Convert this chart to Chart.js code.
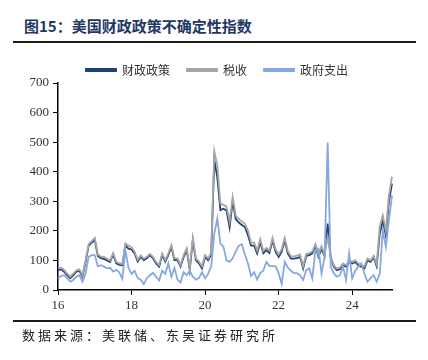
<!DOCTYPE html>
<html><head><meta charset="utf-8">
<script src="https://cdn.jsdelivr.net/npm/chart.js@4.4.1/dist/chart.umd.min.js"></script>
<style>
html,body{margin:0;padding:0;background:#fff;}
#wrap{position:relative;width:428px;height:360px;overflow:hidden;background:#fff;}
#title{position:absolute;left:24px;top:16px;font-family:"Noto Sans CJK SC";font-weight:bold;font-size:15px;line-height:20px;color:#1f3864;white-space:nowrap;}
#rule1{position:absolute;left:13px;top:41px;width:403px;height:2px;background:#1a1a1a;}
#rule2{position:absolute;left:13px;top:320px;width:403px;height:1.5px;background:#1a1a1a;}
#src{position:absolute;left:22px;top:326px;font-family:"Noto Sans CJK SC";font-size:13px;line-height:18px;letter-spacing:3px;color:#222;white-space:nowrap;}
#c{position:absolute;left:0;top:0;}
</style></head>
<body><div id="wrap">
<div id="title">图15：美国财政政策不确定性指数</div>
<div id="rule1"></div>
<canvas id="c" width="428" height="360"></canvas>
<div id="rule2"></div>
<div id="src">数据来源：美联储、东吴证券研究所</div>
</div>
<script>
const seriesNames = ['财政政策', '税收', '政府支出'];
const startYear = 2016, monthCount = 110;
const xTickYears = [2016, 2018, 2020, 2022, 2024];
const xTickLabels = ['16', '18', '20', '22', '24'];

const fiscalPolicy = [68,70,62,50,40,50,62,65,45,95,
150,160,170,115,108,105,100,95,120,90,
85,84,150,140,137,124,96,112,101,107,
118,107,90,79,118,96,118,146,101,101,
79,112,135,68,169,101,90,73,112,101,
120,440,380,270,275,269,212,300,240,228,
220,213,185,150,150,124,162,124,135,125,
168,130,112,130,168,124,106,106,108,112,
73,115,118,124,150,112,140,115,225,110,
79,67,70,84,79,95,90,95,84,79,
73,100,95,110,80,190,235,185,300,360];

const taxes = [73,75,68,55,45,55,67,70,50,100,
155,165,176,120,113,112,106,100,125,95,
90,88,158,150,145,130,102,117,106,112,
122,112,95,84,124,101,124,152,107,107,
84,118,141,74,176,107,96,80,118,107,
126,470,420,292,288,282,232,315,252,240,
232,224,200,160,160,133,172,132,142,133,
176,138,120,138,176,132,114,114,116,120,
80,122,125,130,155,118,148,120,180,112,
84,72,76,90,84,100,95,100,90,84,
80,106,100,115,86,215,252,200,320,383];

const govSpending = [39,47,50,39,28,34,45,50,28,55,
112,118,118,80,84,79,73,75,62,68,
60,38,135,75,55,65,40,35,20,40,
50,58,45,32,65,55,90,45,75,35,
25,60,50,65,45,35,40,60,40,55,
80,190,242,157,146,100,95,107,130,150,
155,120,90,47,60,35,57,65,95,81,
81,80,57,20,95,76,65,57,57,50,
34,67,73,39,135,140,56,112,499,79,
56,45,50,79,34,124,39,65,79,90,
56,28,40,50,28,56,200,146,236,320];

const months = [];
for (let i = 0; i < monthCount; i++) {
  const y = startYear + Math.floor(i / 12), m = (i % 12) + 1;
  months.push(y + '-' + String(m).padStart(2, '0'));
}

const colors = ['#1f3f77', '#a6a6a6', '#86a8e0'];
const valuesList = [fiscalPolicy, taxes, govSpending];
const drawOrder = [2, 1, 0];

const legendShift = {
  id: 'legendShift',
  afterLayout(chart) {
    const lg = chart.legend;
    if (lg) { lg.left += 11; lg.right += 11; lg.top += 3; lg.bottom += 3; }
  }
};

new Chart(document.getElementById('c'), {
  type: 'line',
  data: {
    labels: months,
    datasets: seriesNames.map((n, k) => ({
      label: n, data: valuesList[k], borderColor: colors[k], backgroundColor: colors[k],
      borderWidth: 1.8, pointRadius: 0, tension: 0, fill: false, order: drawOrder[k]
    }))
  },
  plugins: [legendShift],
  options: {
    responsive: false, animation: false,
    layout: { padding: { left: 20, right: 36, top: 44, bottom: 46 } },
    plugins: {
      tooltip: { enabled: false },
      legend: {
        position: 'top',
        labels: { boxWidth: 30, boxHeight: 2, padding: 17, color: '#333',
          font: { family: '"Noto Sans CJK SC"', size: 12 },
          sort: (a, b) => a.datasetIndex - b.datasetIndex }
      }
    },
    scales: {
      x: {
        type: 'category',
        grid: { drawOnChartArea: false, drawTicks: true, tickLength: 5, color: '#000' },
        border: { display: true, color: '#000', width: 1.5 },
        ticks: {
          autoSkip: false, maxRotation: 0, color: '#333', padding: 3,
          font: { family: '"Liberation Serif"', size: 13 },
          callback: function (v) {
            const lbl = months[v];
            const yr = parseInt(lbl.slice(0, 4));
            const k = xTickYears.indexOf(yr);
            return k >= 0 ? xTickLabels[k] : '';
          }
        },
        afterBuildTicks: function (scale) {
          scale.ticks = scale.ticks.filter(t => {
            const lbl = months[t.value];
            return lbl.endsWith('-01') && xTickYears.indexOf(parseInt(lbl.slice(0, 4))) >= 0;
          });
        },
        afterFit: function (scale) { scale.height = 24; }
      },
      y: {
        min: 0, max: 700,
        grid: { drawOnChartArea: false, drawTicks: true, tickLength: 5, color: '#000' },
        border: { display: true, color: '#000', width: 1.5 },
        ticks: { stepSize: 100, color: '#333', padding: 4,
          font: { family: '"Liberation Serif"', size: 13 } },
        afterFit: function (scale) { scale.width = 38; }
      }
    }
  }
});
</script>
</body></html>
